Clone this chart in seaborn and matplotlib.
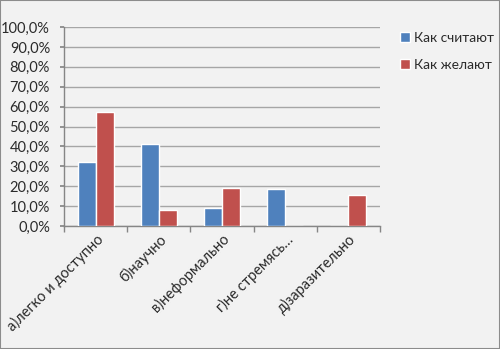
import matplotlib
matplotlib.use("Agg")
import matplotlib.pyplot as plt
import seaborn as sns
import pandas as pd
from matplotlib.ticker import FixedLocator, FuncFormatter

categories = ["а)легко и доступно", "б)научно", "в)неформально", "г)не стремясь…", "д)заразительно"]
series_names = ["Как считают", "Как желают"]
kak_schitayut = [32.0, 41.0, 8.9, 18.4, 0.0]
kak_zhelayut = [57.4, 7.9, 19.1, 0.0, 15.4]
y_ticks = [0, 10, 20, 30, 40, 50, 60, 70, 80, 90, 100]

colors = ["#4f81bd", "#c0504d"]
bg = "#f2f2f2"
text_color = "#2b2b2b"

df = pd.DataFrame({
    "Категория": categories * 2,
    "Серия": [series_names[0]] * len(categories) + [series_names[1]] * len(categories),
    "Доля": kak_schitayut + kak_zhelayut,
})

sns.set_theme(style="white")
plt.rcParams["font.family"] = ["Lato", "DejaVu Sans"]

fig = plt.figure(figsize=(5.0, 3.49), dpi=100, facecolor=bg)
ax = fig.add_axes([0.128, 0.3524, 0.632, 0.5702])
ax.set_facecolor(bg)

sns.barplot(data=df, x="Категория", y="Доля", hue="Серия", palette=colors,
            width=0.57, saturation=1, ax=ax, legend=True, zorder=3)

ax.set_ylim(0, 100)
ax.set_xlim(-0.5, len(categories) - 0.5)
ax.yaxis.set_major_locator(FixedLocator(y_ticks))
ax.yaxis.set_major_formatter(FuncFormatter(lambda v, p: f"{v:.1f}%".replace(".", ",")))
ax.grid(axis="y", color="#a6a6a6", linewidth=1, zorder=0)
ax.set_axisbelow(True)

for s in ["top", "right"]:
    ax.spines[s].set_visible(False)
for s in ["left", "bottom"]:
    ax.spines[s].set_color("#868686")
    ax.spines[s].set_linewidth(1)

ax.tick_params(axis="y", left=True, length=3, color="#868686", labelsize=10.5,
               labelcolor=text_color, pad=7)
ax.tick_params(axis="x", which="major", length=0, labelsize=10.5, labelcolor=text_color, pad=4)
ax.set_xticks([i - 0.5 for i in range(len(categories) + 1)], minor=True)
ax.tick_params(axis="x", which="minor", bottom=True, length=4, color="#868686")
for lbl in ax.get_xticklabels():
    lbl.set_rotation(45)
    lbl.set_ha("right")
    lbl.set_va("top")
    lbl.set_rotation_mode("anchor")

ax.set_xlabel("")
ax.set_ylabel("")

leg = ax.legend(loc="upper left", bbox_to_anchor=(0.789, 0.925), bbox_transform=fig.transFigure,
                frameon=False, fontsize=9.9, handlelength=0.7, handleheight=0.7,
                handletextpad=0.3, labelspacing=1.1, borderaxespad=0)
for t in leg.get_texts():
    t.set_color(text_color)

fig.patches.append(plt.Rectangle((0, 0), 1, 1, transform=fig.transFigure, fill=False,
                                 edgecolor="#8c8c8c", linewidth=1.5, zorder=10))

fig.savefig("out.png", dpi=100, facecolor=bg)
